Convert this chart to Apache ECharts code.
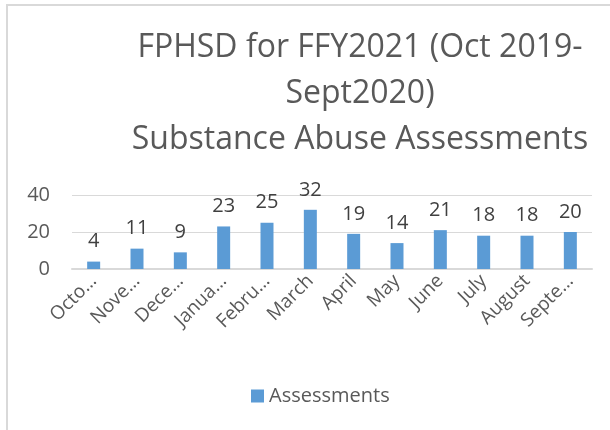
<!DOCTYPE html>
<html>
<head>
<meta charset="utf-8">
<script src="https://cdn.jsdelivr.net/npm/echarts@6/dist/echarts.min.js"></script>
<style>
    html, body { margin: 0; padding: 0; background: #fff; }
    #frame {
        position: absolute; left: 6px; top: 4px; width: 604px; height: 426px;
        border-left: 2px solid #d9d9d9; border-top: 2px solid #d9d9d9;
    }
    #chart { position: absolute; left: 0; top: 0; width: 610px; height: 430px; }
</style>
</head>
<body>
<div id="frame"></div>
<div id="chart"></div>
<script>
    let months = ['October', 'November', 'December', 'January', 'February', 'March',
        'April', 'May', 'June', 'July', 'August', 'September'];
    // tick labels as Excel cut them
    let monthLabels = ['Octo…', 'Nove…', 'Dece…', 'Janua…', 'Febru…', 'March',
        'April', 'May', 'June', 'July', 'August', 'Septe…'];
    let assessments = [4, 11, 9, 23, 25, 32, 19, 14, 21, 18, 18, 20];
    let yTicks = [0, 20, 40];

    let textColor = '#595959';
    let font = "'Open Sans', sans-serif";

    let chart = echarts.init(document.getElementById('chart'));
    let option = {
        animation: false,
        title: {
            text: 'FPHSD for FFY2021 (Oct 2019-\nSept2020)\nSubstance Abuse Assessments',
            left: 355,
            top: 20,
            textAlign: 'center',
            textStyle: {
                color: textColor,
                fontFamily: font,
                fontWeight: 'normal',
                fontSize: 32,
                lineHeight: 46
            }
        },
        grid: {
            left: 72,
            right: 18,
            top: 195,
            bottom: 161
        },
        legend: {
            data: ['Assessments'],
            left: 246,
            top: 381,
            icon: 'rect',
            itemWidth: 13,
            itemHeight: 13,
            itemGap: 6,
            textStyle: {
                color: textColor,
                fontFamily: font,
                fontSize: 20
            }
        },
        xAxis: {
            type: 'category',
            data: months,
            axisLine: { lineStyle: { color: '#d9d9d9', width: 2 } },
            axisTick: { show: false },
            axisLabel: {
                rotate: 45,
                interval: 0,
                margin: 9,
                color: textColor,
                fontFamily: font,
                fontSize: 19,
                formatter: (value, index) => monthLabels[index]
            }
        },
        yAxis: {
            type: 'value',
            min: yTicks[0],
            max: yTicks[yTicks.length - 1],
            interval: 20,
            axisLine: { show: false },
            axisTick: { show: false },
            splitLine: { lineStyle: { color: '#d9d9d9', width: 1 } },
            axisLabel: {
                margin: 22,
                color: textColor,
                fontFamily: font,
                fontSize: 20
            }
        },
        series: [
            {
                name: 'Assessments',
                type: 'bar',
                data: assessments,
                barWidth: 13,
                itemStyle: { color: '#5b9bd5' },
                label: {
                    show: true,
                    position: 'top',
                    distance: 10,
                    color: '#404040',
                    fontFamily: font,
                    fontSize: 20
                }
            }
        ]
    };
    chart.setOption(option);
</script>
</body>
</html>
